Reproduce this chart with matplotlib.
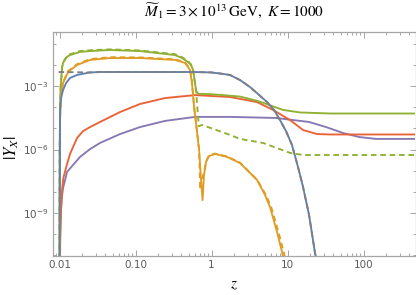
import numpy as np
import matplotlib
matplotlib.use('Agg')
import matplotlib.pyplot as plt
from matplotlib.ticker import FixedLocator, NullFormatter

plt.rcParams['mathtext.fontset'] = 'stix'

# =========================
# DATA (log10 of |Y_X|)
# =========================
blue_z = [0.0100, 0.01016, 0.01047, 0.01112, 0.01219, 0.01374, 0.01698, 0.0252, 0.0341,
          0.1146, 0.607, 0.984, 1.294, 1.75, 2.37, 3.21, 4.09, 5.37, 6.64, 7.96, 9.55, 11.46,
          13.74, 16.0, 19.2, 23.0, 24.4]
blue_ly = [-14, -3.99, -3.57, -3.19, -2.86, -2.62, -2.48, -2.36, -2.34,
           -2.34, -2.34, -2.36, -2.41, -2.48, -2.72, -3.05, -3.38, -3.76, -4.13, -4.61, -5.13, -5.79,
           -6.83, -7.77, -9.09, -10.89, -11.31]

gray_z = [0.0097] + blue_z[7:]
gray_ly = [-2.34] + blue_ly[7:]

green_z = [0.00993, 0.01002, 0.0103, 0.01062, 0.01079, 0.01112, 0.01245, 0.01374, 0.0186, 0.0252,
           0.0461, 0.1146, 0.331, 0.409, 0.491, 0.537, 0.571, 0.625, 0.66, 0.706, 0.984, 1.294,
           2.37, 3.97, 4.76, 6.64, 8.73, 14.6, 36.2, 476]
green_ly = [-14, -6.02, -3.19, -2.48, -2.15, -1.91, -1.63, -1.54, -1.39, -1.35,
            -1.30, -1.35, -1.54, -1.68, -1.87, -2.01, -2.24, -3.19, -3.37, -3.37, -3.39, -3.42,
            -3.50, -3.70, -3.79, -3.98, -4.13, -4.25, -4.30, -4.30]

greend_z = [0.00993, 0.01002, 0.0103, 0.01062, 0.01079, 0.01112, 0.01245, 0.01374, 0.0186, 0.0252,
            0.0461, 0.1146, 0.331, 0.409, 0.491, 0.537, 0.571, 0.625, 0.68, 0.75, 1.75, 2.37,
            4.76, 10.8, 16.0, 476]
greend_ly = [-14, -6.0, -3.15, -2.45, -2.11, -1.88, -1.60, -1.50, -1.35, -1.31,
             -1.27, -1.32, -1.50, -1.64, -1.83, -1.98, -2.22, -3.19, -4.90, -4.84, -5.31, -5.50,
             -5.69, -6.16, -6.26, -6.26]

red_z = [0.0100, 0.01021, 0.01047, 0.01079, 0.01122, 0.01244, 0.01374, 0.01506, 0.01698, 0.02038,
         0.0252, 0.0341, 0.0625, 0.1146, 0.244, 0.607, 0.955, 1.75, 3.97, 6.44, 10.8, 16.0,
         24.4, 36.2, 476]
red_ly = [-14, -10.27, -8.86, -7.91, -7.35, -6.73, -6.21, -5.88, -5.46, -5.13,
          -4.94, -4.70, -4.23, -3.85, -3.57, -3.43, -3.47, -3.52, -3.76, -4.13, -4.61, -5.08,
          -5.27, -5.29, -5.29]

purple_z = [0.0100, 0.01015, 0.0103, 0.01069, 0.01112, 0.01182, 0.01255, 0.01506, 0.01861, 0.0252,
            0.0341, 0.0625, 0.1146, 0.244, 0.607, 1.75, 7.06, 19.2, 32.1, 53.7, 87.3, 146, 476]
purple_ly = [-14, -10.27, -9.09, -8.29, -7.82, -7.44, -7.06, -6.73, -6.35, -5.98,
             -5.69, -5.27, -4.94, -4.65, -4.46, -4.46, -4.51, -4.70, -4.94, -5.22, -5.41, -5.50, -5.50]

orange_z = [0.0100, 0.01016, 0.01047, 0.01112, 0.01294, 0.01698, 0.0252, 0.0461, 0.1146, 0.331,
            0.448, 0.521, 0.553, 0.589, 0.625, 0.686, 0.728, 0.762, 0.796, 0.847, 0.927, 1.112,
            1.60, 2.37, 3.97, 5.06, 5.89, 7.28, 8.47, 9.0]
orange_ly = [-14, -4.46, -3.43, -2.86, -2.34, -2.01, -1.77, -1.68, -1.68, -1.77,
             -1.91, -2.24, -2.86, -3.99, -4.75, -6.02, -7.44, -8.39, -7.20, -6.59, -6.31, -6.21,
             -6.35, -6.64, -7.44, -8.15, -8.72, -9.90, -10.84, -11.31]

oranged_z = [0.0100, 0.01016, 0.01047, 0.01112, 0.01294, 0.01698, 0.0252, 0.0461, 0.1146, 0.331,
             0.448, 0.521, 0.553, 0.589, 0.625, 0.686, 0.710, 0.745, 0.796, 0.847, 0.927, 1.112,
             1.60, 2.37, 3.97, 5.2, 6.1, 7.6, 8.9, 9.5]
oranged_ly = [-14, -4.40, -3.38, -2.82, -2.30, -1.97, -1.73, -1.64, -1.65, -1.74,
              -1.88, -2.20, -2.80, -3.95, -4.75, -6.02, -7.90, -7.40, -7.10, -6.55, -6.28, -6.19,
              -6.33, -6.62, -7.42, -8.15, -8.72, -9.90, -10.84, -11.31]

x_ticks = [0.01, 0.1, 1, 10, 100]
x_labels = ['0.01', '0.10', '1', '10', '100']
y_ticks = [1e-9, 1e-6, 1e-3]
y_labels = [r'$\mathregular{10^{-9}}$', r'$\mathregular{10^{-6}}$', r'$\mathregular{10^{-3}}$']

c_blue = '#5e81b5'
c_orange = '#e19c24'
c_green = '#8fb032'
c_red = '#eb6235'
c_purple = '#8778b3'
c_gray = '#7f7f7f'

# =========================
# PLOT
# =========================
fig = plt.figure(figsize=(4.16, 2.95), dpi=100)
ax = fig.add_axes([53 / 416, 39 / 295, 362.5 / 416, 224 / 295])

lw = 1.35
def P(z, ly, **kw):
    ax.plot(z, 10.0 ** np.array(ly), lw=lw, solid_capstyle='butt', **kw)

P(purple_z, purple_ly, color=c_purple)
P(red_z, red_ly, color=c_red)
P(green_z, green_ly, color=c_green)
P(greend_z, greend_ly, color=c_green, ls=(0, (3, 2)))
P(orange_z, orange_ly, color=c_orange)
P(oranged_z, oranged_ly, color=c_orange, ls=(0, (3, 2)))
P(blue_z, blue_ly, color=c_blue)
P(gray_z, gray_ly, color=c_gray, ls=(0, (3, 2)))

ax.set_xscale('log')
ax.set_yscale('log')
ax.set_xlim(0.0082, 483)
ax.set_ylim(10 ** -11.03, 10 ** -0.45)

ax.xaxis.set_major_locator(FixedLocator(x_ticks))
ax.set_xticklabels(x_labels)
ax.xaxis.set_minor_locator(FixedLocator([m * 10.0 ** k for k in range(-3, 3) for m in range(2, 10)]))
ax.xaxis.set_minor_formatter(NullFormatter())
ax.yaxis.set_major_locator(FixedLocator(y_ticks))
ax.set_yticklabels(y_labels)
ax.yaxis.set_minor_locator(FixedLocator([10.0 ** k for k in range(-12, 1) if k not in (-9, -6, -3)]))
ax.yaxis.set_minor_formatter(NullFormatter())

fc = '#a6a6a6'
for s in ax.spines.values():
    s.set_color(fc)
    s.set_linewidth(0.9)
ax.tick_params(which='both', direction='in', top=True, right=True, color=fc,
               labelsize=7.5, labelcolor='#5a5a5a', width=0.7)
ax.tick_params(which='major', length=4, pad=3)
ax.tick_params(which='minor', length=2.2)

fig.text(234 / 416, 1 - 11 / 295, r'$\widetilde{M}_1 = 3\times10^{13}\,\mathrm{GeV},\ K = 1000$',
         ha='center', va='center', fontsize=11)
fig.text(12 / 416, 1 - 148 / 295, r'$|Y_X|$', rotation=90, ha='center', va='center', fontsize=12)
fig.text(234 / 416, 1 - 284 / 295, r'$z$', ha='center', va='center', fontsize=11)

fig.savefig('out.png', dpi=100)
